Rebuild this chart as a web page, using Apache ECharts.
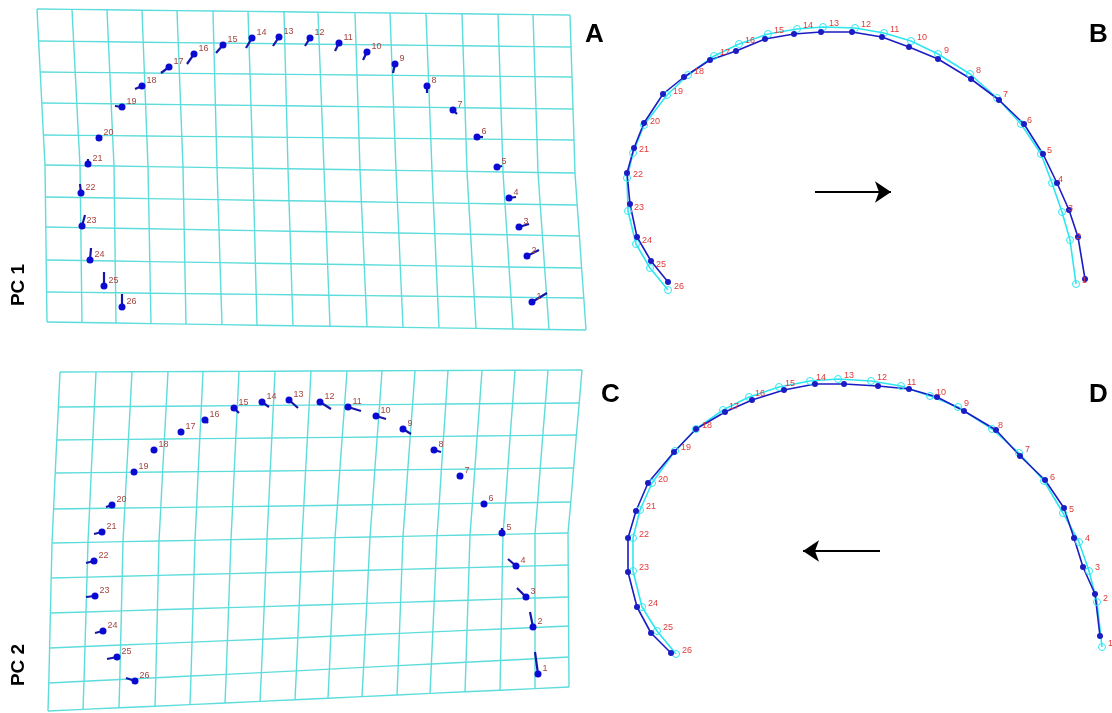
<!DOCTYPE html>
<html>
<head>
<meta charset="utf-8">
<script src="https://cdn.jsdelivr.net/npm/echarts/dist/echarts.min.js"></script>
<style>
  html, body { margin: 0; padding: 0; background: #fff; }
  #chart { width: 1112px; height: 713px; }
</style>
</head>
<body>
<div id="chart"></div>
<script>
  // 网格 A (PC 1)：竖线在顶/中/底的 x，横线在左/右的 y
  var aColTop = [37, 72, 107, 142, 177, 213, 248, 284, 318, 355, 390, 426, 462, 498, 533, 570];
  var aColMid = [45, 80, 114, 148, 183, 217, 253, 288, 324, 360, 396, 432, 467, 503, 538, 575];
  var aColBot = [47, 82, 116, 151, 186, 222, 257, 293, 330, 367, 403, 439, 476, 513, 549, 586];
  var aRowLeft = [9, 41, 72, 103, 135, 165, 197, 227, 260, 292, 322];
  var aRowRight = [15, 47, 77, 109, 140, 173, 205, 236, 268, 298, 330];

  // 网格 C (PC 2)
  var cColTop = [60, 96, 132, 168, 203, 239, 275, 311, 347, 382, 415, 448, 482, 515, 548, 582];
  var cColMid = [52, 88, 123, 159, 195, 231, 267, 302, 335, 370, 403, 437, 470, 503, 535, 568];
  var cColBot = [48, 83, 119, 155, 190, 225, 260, 295, 328, 362, 397, 430, 465, 500, 535, 569];
  var cRowLeft = [372, 407, 440, 473, 509, 543, 578, 613, 648, 683, 711];
  var cRowRight = [370, 403, 435, 468, 502, 533, 565, 597, 626, 657, 687];

  // 地标点 1..26 及其位移向量终点
  var aDots = [[532,302],[527,256],[519,227],[509,198],[497,167],[477,137],[453,110],[427,86],[395,64],[367,52],[339,43],[310,38],[279,37],[252,38],[223,45],[194,54],[169,67],[142,86],[122,107],[99,138],[88,164],[81,193],[82,226],[90,260],[104,286],[122,307]];
  var aEnds = [[547,293],[539,250],[529,224],[516,197],[502,166],[483,137],[457,114],[427,93],[393,73],[363,60],[335,51],[305,46],[273,46],[246,48],[216,53],[187,64],[161,73],[135,89],[115,106],[97,135],[88,159],[80,184],[85,215],[91,248],[104,272],[122,294]];
  var cDots = [[538,674],[533,627],[526,597],[516,566],[502,533],[484,504],[460,476],[434,450],[403,429],[376,416],[348,407],[320,402],[289,400],[262,402],[234,408],[205,420],[181,432],[154,450],[134,472],[112,505],[102,532],[94,561],[95,596],[103,631],[117,657],[135,681]];
  var cEnds = [[535,652],[530,612],[517,588],[508,559],[502,528],[484,504],[462,479],[441,452],[411,434],[386,419],[361,411],[331,409],[298,408],[269,407],[239,413],[208,423],[182,434],[154,450],[133,474],[106,507],[94,534],[86,563],[86,597],[95,633],[107,659],[126,678]];

  // 轮廓 B、D：蓝色(实心) 与 青色(空心)
  var bBlue = [[1085,279],[1078,237],[1069,210],[1057,183],[1043,154],[1024,124],[999,100],[971,79],[938,59],[909,47],[882,37],[852,32],[821,32],[794,34],[765,39],[736,51],[710,60],[684,77],[663,94],[644,123],[634,148],[627,173],[630,204],[637,237],[651,261],[668,282]];
  var bCyan = [[1076,284],[1070,240],[1062,212],[1052,183],[1041,154],[1021,124],[997,98],[970,74],[938,54],[911,41],[884,33],[855,28],[823,27],[797,29],[768,34],[739,44],[714,56],[688,75],[667,95],[644,125],[633,153],[627,178],[628,211],[636,244],[650,268],[668,290]];
  var dBlue = [[1100,636],[1095,594],[1083,567],[1074,538],[1064,508],[1045,480],[1020,456],[996,430],[964,411],[937,397],[909,389],[878,386],[844,384],[815,384],[784,390],[752,400],[725,412],[696,429],[674,452],[648,483],[636,511],[628,538],[628,572],[637,607],[651,633],[671,653]];
  var dCyan = [[1102,647],[1097,602],[1089,571],[1079,542],[1063,513],[1044,481],[1019,453],[992,429],[958,407],[930,396],[901,386],[871,381],[838,379],[810,381],[779,387],[749,397],[723,410],[696,429],[675,451],[652,483],[640,510],[633,538],[633,571],[642,607],[657,631],[676,654]];

  var bArrow = [[815,192],[891,192]];
  var dArrow = [[880,551],[803,551]];

  var gridColor = '#5edcdc';
  var dotColor = '#0a0ad2';
  var vecColor = '#1616a6';
  var darkLabel = '#a4443f';
  var redLabel = '#e23a3a';

  // 由边界数据求网格节点，返回所有网格线
  function buildGrid(colTop, colMid, colBot, rowLeft, rowRight) {
    var nC = colTop.length, nR = rowLeft.length, mid = (nR - 1) / 2;
    function node(r, c) {
      var x = r <= mid
        ? colTop[c] + (colMid[c] - colTop[c]) * r / mid
        : colMid[c] + (colBot[c] - colMid[c]) * (r - mid) / mid;
      var y = rowLeft[r] + (rowRight[r] - rowLeft[r]) * c / (nC - 1);
      return [x, y];
    }
    var lines = [], r, c, pts;
    for (r = 0; r < nR; r++) {
      pts = [];
      for (c = 0; c < nC; c++) pts.push(node(r, c));
      lines.push({ coords: pts });
    }
    for (c = 0; c < nC; c++) {
      pts = [];
      for (r = 0; r < nR; r++) pts.push(node(r, c));
      lines.push({ coords: pts });
    }
    return lines;
  }

  function gridSeries(lines) {
    return {
      type: 'lines', coordinateSystem: 'cartesian2d', polyline: true, silent: true,
      lineStyle: { color: gridColor, width: 1.4, opacity: 1 },
      data: lines
    };
  }

  function vecSeries(dots, ends) {
    return {
      type: 'lines', coordinateSystem: 'cartesian2d', silent: true,
      lineStyle: { color: vecColor, width: 2.2, opacity: 1 },
      data: dots.map(function (d, i) { return { coords: [d, ends[i]] }; })
    };
  }

  function dotSeries(dots) {
    return {
      type: 'scatter', symbol: 'circle', symbolSize: 7, silent: true,
      itemStyle: { color: dotColor, opacity: 1 },
      label: {
        show: true, position: 'right', distance: 1, offset: [0, -5],
        formatter: function (p) { return p.dataIndex + 1; },
        color: darkLabel, fontSize: 9, fontFamily: 'Arial'
      },
      data: dots
    };
  }

  function outlineSeries(data, color, hollow, withLabel) {
    return {
      type: 'line', silent: true, symbol: 'circle', symbolSize: hollow ? 7 : 6,
      showAllSymbol: true,
      lineStyle: { color: color, width: 1.6 },
      itemStyle: hollow
        ? { color: 'rgba(0,0,0,0)', borderColor: color, borderWidth: 1 }
        : { color: color },
      label: {
        show: withLabel, position: 'right', distance: 2, offset: [0, -3],
        formatter: function (p) { return p.dataIndex + 1; },
        color: redLabel, fontSize: 9, fontFamily: 'Arial'
      },
      data: data
    };
  }

  function arrowSeries(coords) {
    return {
      type: 'lines', coordinateSystem: 'cartesian2d', silent: true,
      symbol: ['none', 'arrow'], symbolSize: [13, 16],
      lineStyle: { color: '#000', width: 2, opacity: 1 },
      data: [{ coords: coords }]
    };
  }

  var chart = echarts.init(document.getElementById('chart'));
  chart.setOption({
    animation: false,
    grid: { left: 0, right: 0, top: 0, bottom: 0 },
    xAxis: { type: 'value', min: 0, max: 1112, show: false },
    yAxis: { type: 'value', min: 0, max: 713, inverse: true, show: false },
    series: [
      gridSeries(buildGrid(aColTop, aColMid, aColBot, aRowLeft, aRowRight)),
      gridSeries(buildGrid(cColTop, cColMid, cColBot, cRowLeft, cRowRight)),
      vecSeries(aDots, aEnds),
      vecSeries(cDots, cEnds),
      dotSeries(aDots),
      dotSeries(cDots),
      outlineSeries(bCyan, '#2ee6f0', true, true),
      outlineSeries(bBlue, '#1c1cc4', false, false),
      outlineSeries(dCyan, '#2ee6f0', true, true),
      outlineSeries(dBlue, '#1c1cc4', false, false),
      arrowSeries(bArrow),
      arrowSeries(dArrow)
    ],
    graphic: [
      { type: 'text', left: 585, top: 22, style: { text: 'A', font: 'bold 26px Arial', fill: '#000' } },
      { type: 'text', left: 1089, top: 22, style: { text: 'B', font: 'bold 26px Arial', fill: '#000' } },
      { type: 'text', left: 601, top: 382, style: { text: 'C', font: 'bold 26px Arial', fill: '#000' } },
      { type: 'text', left: 1089, top: 382, style: { text: 'D', font: 'bold 26px Arial', fill: '#000' } },
      { type: 'text', x: 19, y: 285, rotation: Math.PI / 2,
        style: { text: 'PC 1', font: 'bold 19px Arial', fill: '#000', align: 'center', verticalAlign: 'middle' } },
      { type: 'text', x: 19, y: 665, rotation: Math.PI / 2,
        style: { text: 'PC 2', font: 'bold 19px Arial', fill: '#000', align: 'center', verticalAlign: 'middle' } }
    ]
  });
</script>
</body>
</html>
